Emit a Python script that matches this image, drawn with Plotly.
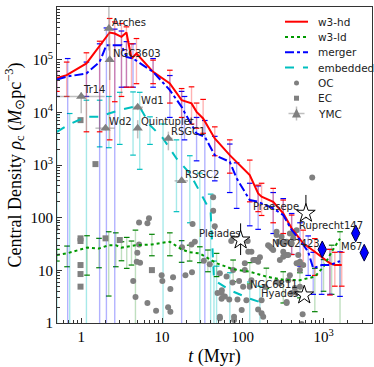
import math
import plotly.graph_objects as go

# ---- model tracks (t in Myr, central density in Msun/pc^3) ----
hd_t = [0.5, 0.66, 1.16, 1.69, 2.25, 2.6, 3.15, 3.63, 4.19, 4.83, 7.76, 12.5, 17.5, 23.2, 26.8,
        32.3, 45, 69, 122, 155, 171, 238, 317, 403, 560, 780, 1200, 1380, 1680]
hd_rho = [44600, 50800, 84700, 188000, 328000, 314000, 271000, 328000, 105000, 131000, 58700,
          35300, 17000, 14800, 10200, 7660, 3200, 1540, 643, 289, 250, 200, 121, 62.7, 32.5,
          22.5, 13.6, 12.6, 12.6]
hd_hi = [60000, 90000, 135000, 224000, 606000, 521000, 486000, 420000, 200000, 252000, 98000,
         63000, 28300, 30500, 15000, 17600, 5300, 3000, 1240, 415, 450, 360, 216, 112, 58,
         40, 25, 22, 22]
hd_lo = [25000, 20000, 4270, 4270, 3000, 15900, 20000, 30000, 30000, 35000, 35000, 15000, 8000,
         6000, 5000, 4000, 1500, 700, 200, 130, 110, 80, 50, 20, 12, 8, 3.4, 5, 5]

ld_t = [0.5, 0.667, 1.18, 1.66, 2.19, 2.68, 3.15, 3.66, 4.19, 4.69, 7.5, 12.5, 17.5, 22, 29.4,
        37, 47.4, 76, 122, 196, 317, 510, 780, 1000, 1260, 1600]
ld_rho = [19.5, 21, 27, 26, 30, 30, 27, 28, 29, 30, 31, 35, 25, 22, 21, 17, 13.6, 10.5, 9.4,
          7.6, 6.6, 6.5, 7.6, 11.7, 22.5, 40]
ld_hi = [25, 28.9, 45.4, 40.5, 54, 51.5, 34.9, 42.2, 36, 58, 48.3, 51.5, 36.6, 30, 28, 24.3,
         21, 15.7, 14, 11, 9.4, 9, 10.9, 16, 30, 54]
ld_lo = [15, 11.7, 8.1, 11.2, 3.25, 11.7, 15.2, 10.9, 12.6, 0.5, 18.9, 18.9, 14.2, 15, 14, 9.4,
         7.6, 6.1, 5.5, 4.5, 2.4, 3, 1.64, 4, 3.5, 0.5]

mg_t = [0.5, 0.68, 1.16, 1.69, 2.05, 2.6, 3.15, 3.63, 4.38, 7.76, 12.5, 17.5, 19, 26.8, 33.9,
        45, 69, 84, 122, 155, 238, 317, 403, 511, 646, 745, 947, 1200, 1600]
mg_rho = [42100, 48000, 54700, 90800, 188000, 188000, 188000, 113000, 105000, 58700, 26400,
          12700, 10000, 3980, 3430, 1540, 1150, 557, 216, 200, 150, 112, 58.2, 37.6, 22.5,
          10.9, 12.6, 12.6, 15]
mg_hi = [60000, 105000, 90000, 200000, 400000, 380000, 350000, 220000, 200000, 105000, 50000,
         25000, 20000, 8000, 7000, 3500, 2500, 1100, 450, 400, 300, 230, 120, 80, 45, 22, 25,
         25, 22.5]
mg_lo = [20000, 0.5, 20000, 0.5, 0.5, 0.5, 30000, 30000, 30000, 30000, 8000, 0.5, 3000, 1200,
         0.5, 500, 300, 150, 70, 60, 50, 35, 20, 12, 8, 3.5, 3.5, 3.5, 3.2]

em_t = [0.5, 0.72, 1.16, 1.69, 2.2, 3.0, 4.38, 5.3, 7.1, 10.3, 15.1, 22.1, 29.4, 40, 44, 47.4,
        69.2, 122, 163]
em_rho = [4270, 6000, 8220, 8220, 9500, 11000, 12700, 12700, 5720, 3200, 1330, 693, 310, 130,
          7.0, 6.1, 4.2, 2.9, 2.5]
em_hi = [9000, 9500, 17000, 17000, 20000, 24000, 24400, 24000, 8220, 6000, 3000, 1500, 700,
         280, 15, 12, 9, 6, 5]
em_lo = [0.5, 0.5, 0.5, 2210, 2130, 2460, 1540, 828, 2460, 0.5, 130, 80, 0.5, 0.5, 0.5, 0.5,
         0.5, 0.5, 0.5]

# ---- observed clusters ----
oc_t = [0.48, 5.2, 6.6, 6.9, 5.2, 4.95, 4.87, 5.35, 4.4, 4.7,
        6.6, 8.45, 9.9, 10.1, 11.9, 12.7, 12.7, 13.7, 19.5, 23.9,
        25.5, 23.2, 17.7, 23.5, 33, 39, 48.7, 54.6, 52, 76,
        74.8, 86, 68, 78, 78, 90, 128, 122, 135, 148,
        117, 155, 72, 55, 724, 43, 43, 45, 128, 163,
        155, 206, 228, 288, 317, 349, 421, 464, 383, 262,
        317, 366, 486, 510, 106, 106, 52, 63, 76, 54.6,
        60, 101, 111, 171, 179, 349, 551, 403, 442, 288,
        52, 97, 188, 141, 217, 238, 262, 275, 302, 349,
        366, 317, 421, 403, 486, 464, 510, 560, 262, 383,
        510, 171, 349, 464, 535, 115]
oc_rho = [63, 81, 78, 98, 31, 21.6, 14.6, 13.9, 6.3, 3.1,
          2.4, 1.7, 8.1, 6.3, 2.0, 1.64, 4.4, 7.4, 8.1, 75.6,
          34.9, 31.1, 27.3, 9.2, 15.2, 13, 3.7, 2.9, 1.23, 40.5,
          5.9, 2.8, 2.8, 1.32, 1.14, 6.3, 6.5, 4.9, 15.7, 15.7,
          22.5, 1.8, 36, 4.2, 582, 245, 135, 69, 22.5, 17.7,
          14.6, 30, 26, 15.7, 18.1, 19.5, 40.5, 58, 50, 54,
          32.5, 6.5, 13.6, 10.1, 13.6, 10.1, 8.8, 7.6, 10.1, 3.7,
          3.2, 4.9, 2.7, 1.53, 1.32, 2.4, 1.46, 3.7, 4.6, 5.7,
          1.32, 1.77, 4.9, 15.7, 28, 24.3, 46.8, 34.9, 43.4, 34.9,
          19.5, 22.5, 50, 32.5, 19.5, 13.6, 14.6, 12.6, 6.1, 8.1,
          4.9, 2.7, 2.5, 3.7, 0.96, 36]

ec_t = [0.98, 1.5, 0.98, 0.98, 0.98, 0.98, 0.98, 2.0, 3.0, 7.5]
ec_rho = [7110, 1040, 40.5, 36, 12.6, 8.5, 4.9, 40.5, 37.6, 10.1]

ymc_name = ["Arches", "NGC3603", "Tr14", "Wd2", "Wd1", "Quintuplet", "RSGC1", "RSGC2"]
ymc_t = [2.2, 2.25, 1.0, 2.0, 5.0, 5.0, 12, 17.5]
ymc_t_lo = [2.0, 2.1, 0.47, 1.5, 4.4, 4.8, 10.5, 14.3]
ymc_t_hi = [2.4, 2.4, 1.95, 2.6, 5.8, 5.2, 13.5, 21]
ymc_rho = [3.9e5, 1.0e5, 2.0e4, 5.0e3, 1.25e4, 5.0e3, 3.2e3, 5.0e2]
ymc_rho_lo = [1.5e5, 4.1e4, 9.6e3, 4.5e3, 1.1e4, 3.2e3, 1.9e3, 4.5e2]
ymc_rho_hi = [3e6, 2e5, 2.4e4, 5.5e3, 1.4e4, 7.1e3, 4.3e3, 5.5e2]

star_name = ["Pleiades", "Praesepe", "Hyades"]
star_t = [94, 605, 577]
star_rho = [37.6, 121, 3.4]
star_hi = [78, 270, 4.0]
star_lo = [19.5, 97, 3.0]

dia_name = ["NGC2423", "Ruprecht147", "M67"]
dia_t = [964, 2500, 3190]
dia_rho = [25, 50.4, 21.6]

extra_name = ["NGC6811"]
extra_t = [510]
extra_rho = [5.3]

legend_names = ["w3-hd", "w3-ld", "merger", "embedded", "OC", "EC", "YMC"]

fig = go.Figure()


def add_bars(t, rho, hi, lo, color, rgba):
    fig.add_trace(go.Scatter(
        x=t, y=rho, mode="markers", marker=dict(size=1, opacity=0),
        error_y=dict(type="data", symmetric=False,
                     array=[h - r for h, r in zip(hi, rho)],
                     arrayminus=[r - l for r, l in zip(rho, lo)],
                     color=rgba, thickness=1.4, width=0),
        showlegend=False, hoverinfo="skip"))
    fig.add_trace(go.Scatter(
        x=t + t, y=hi + lo, mode="markers",
        marker=dict(symbol="line-ew", size=4, line=dict(color=color, width=1.2)),
        showlegend=False, hoverinfo="skip"))


add_bars(em_t, em_rho, em_hi, em_lo, "#00bfbf", "rgba(0,191,191,0.35)")
add_bars(ld_t, ld_rho, ld_hi, ld_lo, "#008000", "rgba(0,128,0,0.25)")
add_bars(mg_t, mg_rho, mg_hi, mg_lo, "#0000ff", "rgba(0,0,255,0.3)")
add_bars(hd_t, hd_rho, hd_hi, hd_lo, "#ff0000", "rgba(255,0,0,0.3)")

fig.add_trace(go.Scatter(x=oc_t, y=oc_rho, mode="markers", showlegend=False,
                         marker=dict(symbol="circle", size=6, color="#808080")))
fig.add_trace(go.Scatter(x=ec_t, y=ec_rho, mode="markers", showlegend=False,
                         marker=dict(symbol="square", size=6, color="#808080")))

fig.add_trace(go.Scatter(x=hd_t, y=hd_rho, mode="lines", showlegend=False,
                         line=dict(color="#ff0000", width=2)))
fig.add_trace(go.Scatter(x=ld_t, y=ld_rho, mode="lines", showlegend=False,
                         line=dict(color="#009900", width=2, dash="dot")))
fig.add_trace(go.Scatter(x=mg_t, y=mg_rho, mode="lines", showlegend=False,
                         line=dict(color="#0000ff", width=2, dash="dashdot")))
fig.add_trace(go.Scatter(x=em_t, y=em_rho, mode="lines", showlegend=False,
                         line=dict(color="#00bfbf", width=2, dash="dash")))

fig.add_trace(go.Scatter(
    x=ymc_t, y=ymc_rho, mode="markers", showlegend=False,
    marker=dict(symbol="triangle-up", size=9, color="#808080"),
    error_x=dict(type="data", symmetric=False,
                 array=[h - v for h, v in zip(ymc_t_hi, ymc_t)],
                 arrayminus=[v - l for v, l in zip(ymc_t, ymc_t_lo)],
                 color="rgba(128,128,128,0.5)", thickness=1.5, width=0),
    error_y=dict(type="data", symmetric=False,
                 array=[h - v for h, v in zip(ymc_rho_hi, ymc_rho)],
                 arrayminus=[v - l for v, l in zip(ymc_rho, ymc_rho_lo)],
                 color="rgba(128,128,128,0.5)", thickness=1.5, width=0)))

fig.add_trace(go.Scatter(
    x=star_t, y=star_rho, mode="markers", showlegend=False,
    marker=dict(symbol="star", size=14, color="white", line=dict(color="black", width=1)),
    error_y=dict(type="data", symmetric=False,
                 array=[h - v for h, v in zip(star_hi, star_rho)],
                 arrayminus=[v - l for v, l in zip(star_rho, star_lo)],
                 color="black", thickness=1, width=0)))

fig.add_trace(go.Scatter(
    x=dia_t, y=dia_rho, mode="markers", showlegend=False,
    marker=dict(symbol="diamond-tall", size=12, color="#0000ff",
                line=dict(color="#000044", width=1))))

# cluster labels (annotations on log axes take log10 positions)
label_style = {
    "Arches": ("left", "bottom", 1, -1), "NGC3603": ("left", "bottom", 1, -1),
    "Tr14": ("left", "bottom", 0, -1), "Wd2": ("left", "bottom", 1, -1),
    "Wd1": ("left", "bottom", 1, -1), "Quintuplet": ("left", "bottom", 1, -1),
    "RSGC1": ("left", "bottom", 1, -1), "RSGC2": ("left", "bottom", 1, -1),
    "Pleiades": ("right", "bottom", 2, -1), "Praesepe": ("right", "bottom", -5, -1),
    "Hyades": ("right", "middle", -4, 2),
    "NGC2423": ("right", "bottom", 0, -2), "Ruprecht147": ("right", "bottom", 9, 0),
    "M67": ("right", "bottom", 0, -1), "NGC6811": ("right", "middle", 0, 0),
}
pts = list(zip(ymc_name, ymc_t, ymc_rho)) + list(zip(star_name, star_t, star_rho)) \
    + list(zip(dia_name, dia_t, dia_rho)) + list(zip(extra_name, extra_t, extra_rho))
for nm, tx, ry in pts:
    xa, ya, xs, ys = label_style[nm]
    fig.add_annotation(x=math.log10(tx), y=math.log10(ry), xref="x", yref="y", text=nm,
                       showarrow=False, xanchor=xa, yanchor=ya, xshift=xs, yshift=ys,
                       font=dict(family="DejaVu Sans", size=10, color="#222"))

# hand-drawn legend (paper coordinates)
def px(v):
    return (v - 57) / 315.0


def py(v):
    return (323 - v) / 316.0


leg_rows = [21.7, 37, 52.3, 67.6, 82.9, 98.2, 113.5]
leg_lines = [("#ff0000", "solid"), ("#009900", "dot"), ("#0000ff", "dashdot"), ("#00bfbf", "dash")]
for i, (col, dsh) in enumerate(leg_lines):
    fig.add_shape(type="line", xref="paper", yref="paper", x0=px(285), x1=px(308),
                  y0=py(leg_rows[i]), y1=py(leg_rows[i]), line=dict(color=col, width=2, dash=dsh))
cx = 296.5
fig.add_shape(type="circle", xref="paper", yref="paper", x0=px(cx - 2.5), x1=px(cx + 2.5),
              y0=py(leg_rows[4] + 2.5), y1=py(leg_rows[4] - 2.5), fillcolor="#808080",
              line=dict(width=0))
fig.add_shape(type="rect", xref="paper", yref="paper", x0=px(cx - 2.5), x1=px(cx + 2.5),
              y0=py(leg_rows[5] + 2.5), y1=py(leg_rows[5] - 2.5), fillcolor="#808080",
              line=dict(width=0))
r6 = leg_rows[6]
fig.add_shape(type="line", xref="paper", yref="paper", x0=px(cx - 8), x1=px(cx + 8),
              y0=py(r6), y1=py(r6), line=dict(color="rgba(128,128,128,0.5)", width=1.5))
fig.add_shape(type="line", xref="paper", yref="paper", x0=px(cx), x1=px(cx),
              y0=py(r6 - 7), y1=py(r6 + 7), line=dict(color="rgba(128,128,128,0.5)", width=1.5))
fig.add_shape(type="path", xref="paper", yref="paper",
              path="M %f %f L %f %f L %f %f Z" % (px(cx - 4.5), py(r6 + 4), px(cx + 4.5), py(r6 + 4),
                                                   px(cx), py(r6 - 5)),
              fillcolor="#808080", line=dict(width=0))
for i, nm in enumerate(legend_names):
    fig.add_annotation(x=px(316), y=py(leg_rows[i]), xref="paper", yref="paper", text=nm,
                       showarrow=False, xanchor="left", yanchor="middle",
                       font=dict(family="DejaVu Sans", size=10.5, color="#222"))

minor_x = [m * 10 ** k for k in range(-1, 4) for m in range(2, 10)]
minor_y = [m * 10 ** k for k in range(0, 6) for m in range(2, 10)]
axis_font = dict(family="Liberation Serif", size=15, color="black")

fig.update_xaxes(type="log", range=[-0.3, 3.6], showgrid=False, zeroline=False, automargin=False,
                 showline=True, linecolor="#333", linewidth=1, mirror=True,
                 ticks="inside", ticklen=5, tickcolor="#333",
                 tickvals=[1, 10, 100, 1000], ticktext=["1", "10", "100", "10<sup>3</sup>"],
                 tickfont=axis_font,
                 minor=dict(tickmode="array", tickvals=minor_x, ticks="inside", ticklen=3,
                            tickcolor="#333"),
                 title=dict(text="<i>t</i> (Myr)", standoff=6,
                            font=dict(family="Liberation Serif", size=18, color="black")))
fig.update_yaxes(type="log", range=[0, 6], showgrid=False, zeroline=False, automargin=False,
                 showline=True, linecolor="#333", linewidth=1, mirror=True,
                 ticks="inside", ticklen=5, tickcolor="#333",
                 tickvals=[1, 10, 100, 1000, 1e4, 1e5, 1e6],
                 ticktext=["1", "10", "100", "10<sup>3</sup>", "10<sup>4</sup>",
                           "10<sup>5</sup>", "10<sup>6</sup>"],
                 tickfont=axis_font,
                 minor=dict(tickmode="array", tickvals=minor_y, ticks="inside", ticklen=3,
                            tickcolor="#333"),
                 title=dict(text="Central Density <i>ρ</i><sub>c</sub> (<i>M</i><sub>⊙</sub>pc<sup>−3</sup>)",
                            standoff=4,
                            font=dict(family="Liberation Serif", size=18, color="black")))

fig.update_layout(
    width=374, height=367,
    margin=dict(l=57, r=2, t=7, b=44),
    paper_bgcolor="white", plot_bgcolor="white",
    showlegend=False,
)

fig.write_html("out.html", config={"displayModeBar": False},
               post_script="document.body.style.margin='0';")
